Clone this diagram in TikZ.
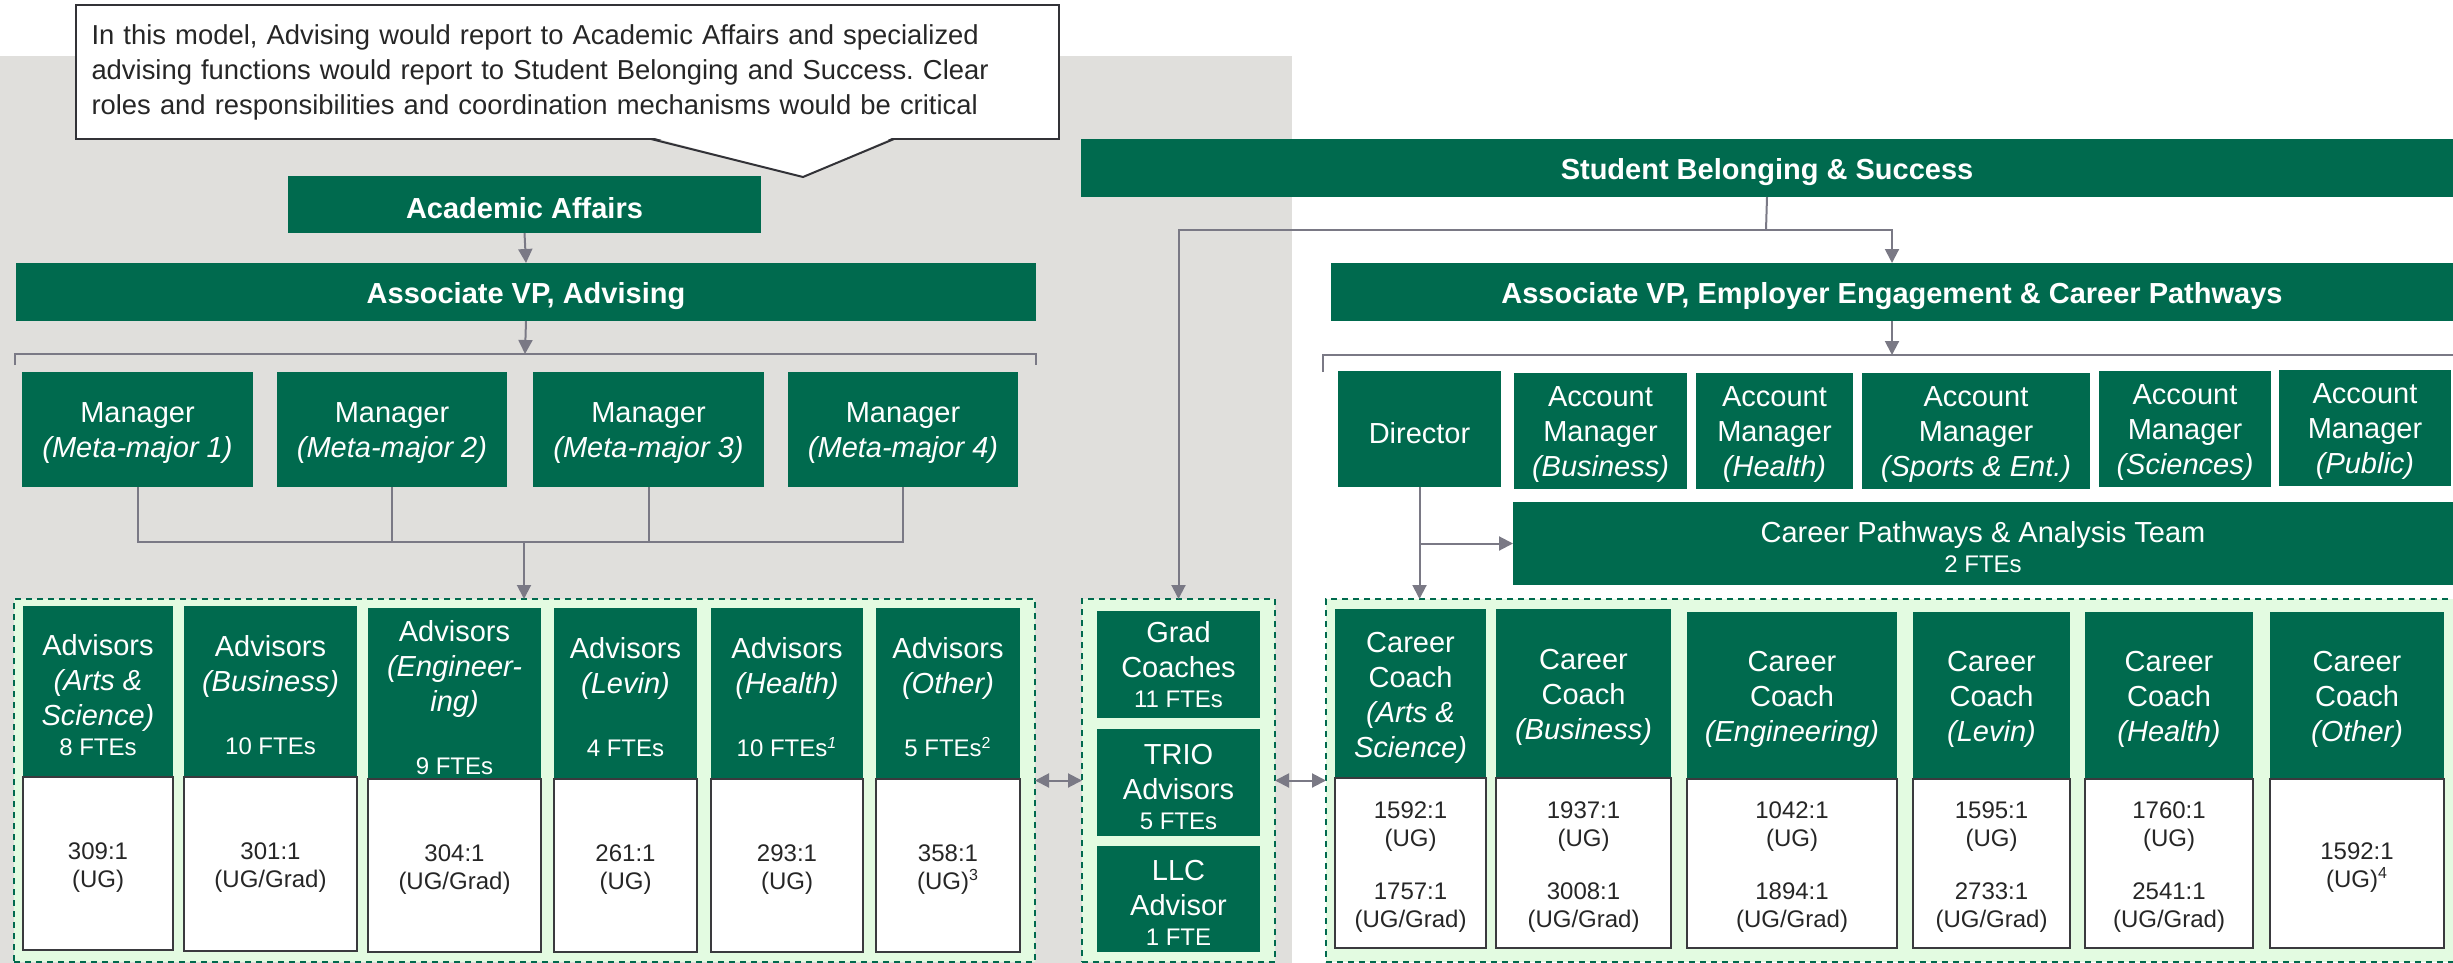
\documentclass[tikz,border=0pt]{standalone}
\usepackage{fontspec}
\setmainfont{Liberation Sans}
\usetikzlibrary{arrows.meta}
\frenchspacing

\definecolor{dgreen}{RGB}{0,106,78}
\definecolor{bggray}{RGB}{224,223,220}
\definecolor{lgreen}{RGB}{227,251,225}
\definecolor{lineg}{RGB}{122,121,133}
\definecolor{boxline}{RGB}{58,58,62}
\definecolor{txt}{RGB}{38,38,38}
\definecolor{notebd}{RGB}{50,50,55}

% vertical offset of a box's text from the box centre
\def\tdy{-2pt}
\tikzset{tdy/.store in=\tdy}

% box from its corner coordinates: style, name, x1, y1, x2, y2, text
\newcommand\placebox[7]{%
  \node[#1, minimum width={(#5-#3)*0.5pt}, minimum height={(#6-#4)*0.5pt}]
    (#2) at ({(#3+#5)/2},{(#4+#6)/2}) {};
  \node[#1, fill=none, draw=none, yshift=\tdy] at (#2.center) {#7};}
\newcommand\fte[1]{{\fontsize{12}{14}\selectfont #1}}

\tikzset{
  gbox/.style={fill=dgreen, text=white, inner sep=0pt, outer sep=0pt,
    align=center, font=\fontsize{14.5}{17.5}\selectfont},
  hbox/.style={gbox, font=\bfseries\fontsize{14.5}{17.5}\selectfont},
  wbox/.style={fill=white, draw=boxline, line width=1pt, text=txt,
    inner sep=0pt, outer sep=0pt, align=center,
    font=\fontsize{12}{14}\selectfont},
  grp/.style={fill=lgreen, draw=dgreen, line width=1pt,
    dash pattern=on 3pt off 2.5pt, inner sep=0pt, outer sep=0pt},
  conn/.style={draw=lineg, line width=1pt},
  arr/.style={conn, -{Triangle[length=7pt,width=7pt]}},
  darr/.style={conn, {Triangle[length=7pt,width=7pt]}-{Triangle[length=7pt,width=7pt]}},
}

\begin{document}
\begin{tikzpicture}[x=0.5pt,y=-0.5pt]
\useasboundingbox (0,0) rectangle (2453,963);
\clip (0,0) rectangle (2453,963);

% shaded advising area
\fill[bggray] (0,56) rectangle (1292,963);

% explanatory note with its pointer
\placebox{draw=notebd, fill=white, line width=1pt, inner xsep=7.5pt, inner ysep=0pt,
  text width=476pt, align=left, text=txt, font=\fontsize{13.7}{17.5}\selectfont, tdy=0pt}
  {note}{76}{5}{1059}{139}
  {In this model, Advising would report to Academic Affairs and specialized\\
   advising functions would report to Student Belonging and Success. Clear\\
   roles and responsibilities and coordination mechanisms would be critical}
\fill[white] (651,137) -- (803,177) -- (894,137) -- cycle;
\draw[notebd, line width=1pt, line join=miter] (651,139) -- (803,177) -- (894,139);

% top-level units
\placebox{hbox}{aa}{288}{176}{761}{233}{Academic Affairs}
\placebox{hbox}{avpa}{16}{263}{1036}{321}{Associate VP, Advising}
\placebox{hbox}{sbs}{1081}{139}{2453}{197}{Student Belonging \& Success}
\placebox{hbox}{avpe}{1331}{263}{2453}{321}{Associate VP, Employer Engagement \& Career Pathways}

% managers
\placebox{gbox}{m1}{22}{372}{253}{487}{Manager\\\textit{(Meta-major 1)}}
\placebox{gbox}{m2}{277}{372}{507}{487}{Manager\\\textit{(Meta-major 2)}}
\placebox{gbox}{m3}{533}{372}{764}{487}{Manager\\\textit{(Meta-major 3)}}
\placebox{gbox}{m4}{788}{372}{1018}{487}{Manager\\\textit{(Meta-major 4)}}

% employer engagement
\placebox{gbox}{dir}{1338}{371}{1501}{487}{Director}
\placebox{gbox}{am1}{1514}{373}{1687}{489}{Account\\Manager\\\textit{(Business)}}
\placebox{gbox}{am2}{1696}{373}{1853}{489}{Account\\Manager\\\textit{(Health)}}
\placebox{gbox}{am3}{1862}{373}{2090}{489}{Account\\Manager\\\textit{(Sports \& Ent.)}}
\placebox{gbox}{am4}{2099}{371}{2271}{487}{Account\\Manager\\\textit{(Sciences)}}
\placebox{gbox}{am5}{2279}{370}{2451}{486}{Account\\Manager\\\textit{(Public)}}
\placebox{gbox}{cpt}{1513}{502}{2453}{585}{Career Pathways \& Analysis Team\\[-2.5pt]\fte{2 FTEs}}

% dashed groups
\placebox{grp}{gL}{14}{599}{1035}{962}{}
\placebox{grp}{gM}{1082}{599}{1275}{962}{}
\placebox{grp}{gR}{1326}{599}{2470}{962}{}

% advisors
\placebox{gbox}{a1}{23}{606}{173}{777}{Advisors\\\textit{(Arts \&}\\\textit{Science)}\\[-2.5pt]\fte{8 FTEs}}
\placebox{wbox}{a1r}{23}{777}{173}{950}{309:1\\(UG)}
\placebox{gbox}{a2}{184}{606}{357}{777}{Advisors\\\textit{(Business)}\\[14pt]\fte{10 FTEs}}
\placebox{wbox}{a2r}{184}{777}{357}{951}{301:1\\(UG/Grad)}
\placebox{gbox}{a3}{368}{608}{541}{779}{Advisors\\\textit{(Engineer-}\\\textit{ing)}\\[14pt]\fte{9 FTEs}}
\placebox{wbox}{a3r}{368}{779}{541}{952}{304:1\\(UG/Grad)}
\placebox{gbox}{a4}{554}{608}{697}{779}{Advisors\\\textit{(Levin)}\\[14pt]\fte{4 FTEs}}
\placebox{wbox}{a4r}{554}{779}{697}{952}{261:1\\(UG)}
\placebox{gbox}{a5}{711}{608}{863}{779}{Advisors\\\textit{(Health)}\\[14pt]\fte{10 FTEs\textsuperscript{\textit{1}}}}
\placebox{wbox}{a5r}{711}{779}{863}{952}{293:1\\(UG)}
\placebox{gbox}{a6}{876}{608}{1020}{779}{Advisors\\\textit{(Other)}\\[14pt]\fte{5 FTEs\textsuperscript{2}}}
\placebox{wbox}{a6r}{876}{779}{1020}{952}{358:1\\(UG)\textsuperscript{3}}

% specialized advising
\placebox{gbox, tdy=0pt}{gc}{1097}{611}{1260}{718}{Grad\\Coaches\\[-2.5pt]\fte{11 FTEs}}
\placebox{gbox}{trio}{1097}{729}{1260}{836}{TRIO\\Advisors\\[-2.5pt]\fte{5 FTEs}}
\placebox{gbox}{llc}{1097}{846}{1260}{952}{LLC\\Advisor\\[-2.5pt]\fte{1 FTE}}

% career coaches
\placebox{gbox}{c1}{1335}{609}{1486}{778}{Career\\Coach\\\textit{(Arts \&}\\\textit{Science)}}
\placebox{wbox}{c1r}{1335}{778}{1486}{948}{1592:1\\(UG)\\[12.5pt]1757:1\\(UG/Grad)}
\placebox{gbox}{c2}{1496}{609}{1671}{778}{Career\\Coach\\\textit{(Business)}}
\placebox{wbox}{c2r}{1496}{778}{1671}{948}{1937:1\\(UG)\\[12.5pt]3008:1\\(UG/Grad)}
\placebox{gbox}{c3}{1687}{612}{1897}{779}{Career\\Coach\\\textit{(Engineering)}}
\placebox{wbox}{c3r}{1687}{779}{1897}{948}{1042:1\\(UG)\\[12.5pt]1894:1\\(UG/Grad)}
\placebox{gbox}{c4}{1913}{612}{2070}{779}{Career\\Coach\\\textit{(Levin)}}
\placebox{wbox}{c4r}{1913}{779}{2070}{948}{1595:1\\(UG)\\[12.5pt]2733:1\\(UG/Grad)}
\placebox{gbox}{c5}{2085}{612}{2253}{779}{Career\\Coach\\\textit{(Health)}}
\placebox{wbox}{c5r}{2085}{779}{2253}{948}{1760:1\\(UG)\\[12.5pt]2541:1\\(UG/Grad)}
\placebox{gbox}{c6}{2270}{612}{2444}{779}{Career\\Coach\\\textit{(Other)}}
\placebox{wbox}{c6r}{2270}{779}{2444}{948}{1592:1\\(UG)\textsuperscript{4}}

% junction points
\coordinate (brkA) at (525,354);
\coordinate (brkAL) at (15,365);
\coordinate (brkAR) at (1036,365);
\coordinate (mj) at (524,542);
\coordinate (sj) at (1766,230);
\coordinate (brkE) at (1892,355);
\coordinate (brkEL) at (1323,372);
\coordinate (brkER) at (2460,355);

% academic affairs chain
\draw[arr] (aa.south) -- (avpa.north);
\draw[arr] (avpa.south) -- (brkA);
\draw[conn] (brkAL) |- (brkA) -| (brkAR);
\draw[conn] (m1.south) |- (mj) -| (m4.south);
\draw[conn] (m2.south) -- (m2.south |- mj);
\draw[conn] (m3.south) -- (m3.south |- mj);
\draw[arr] (mj) -- (mj |- gL.north);

% student belonging chain
\draw[conn] (sbs.south) -- (sj);
\draw[arr] (sj) -| (avpe.north);
\draw[arr] (sj) -| (gM.north);
\draw[arr] (avpe.south) -- (brkE);
\draw[conn] (brkEL) |- (brkE) -- (brkER);
\draw[arr] (dir.south) -- (dir.south |- gR.north);
\draw[arr] (dir.south |- cpt.west) -- (cpt.west);

% coordination between groups
\draw[darr] (gL.east) -- (gM.west);
\draw[darr] (gM.east) -- (gR.west);
\end{tikzpicture}
\end{document}
